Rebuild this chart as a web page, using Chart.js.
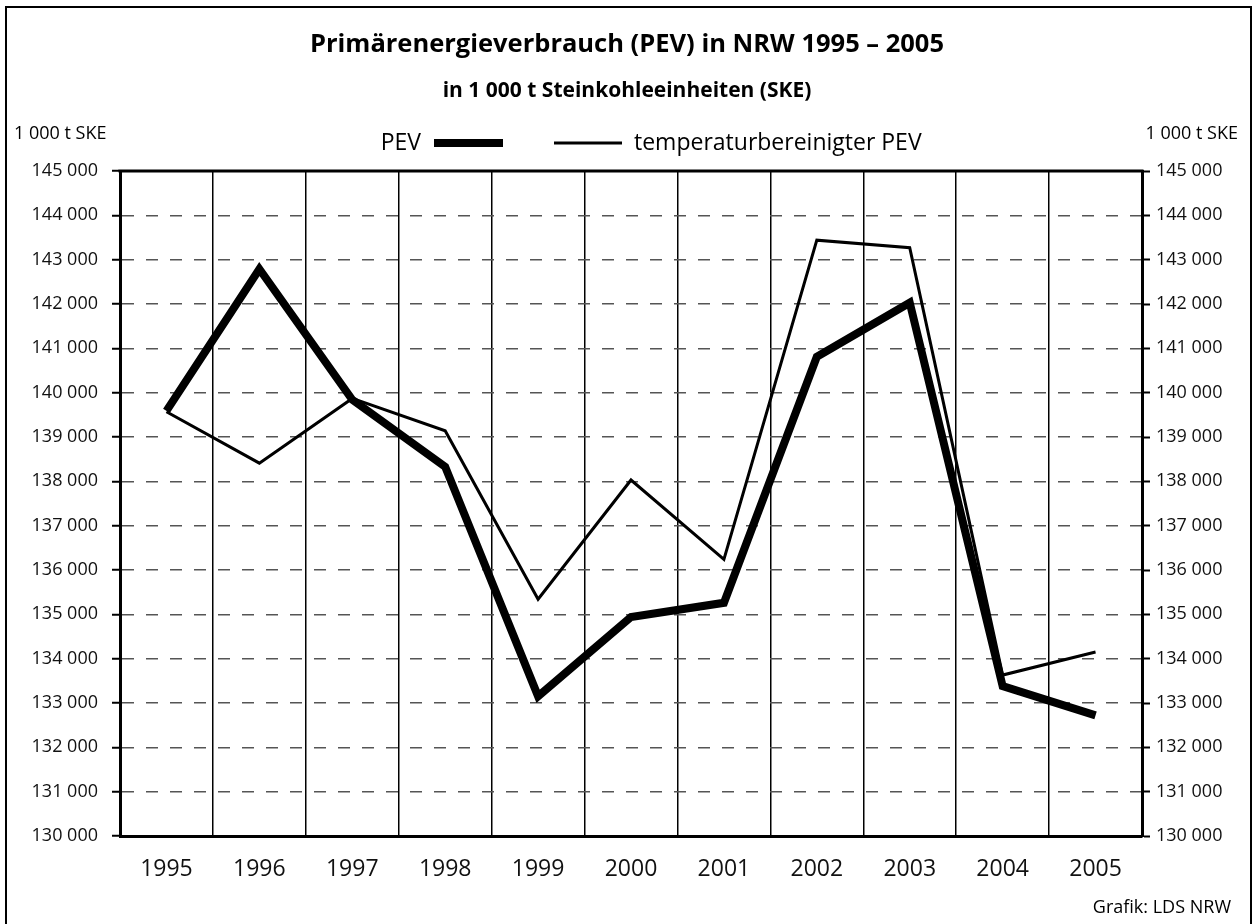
<!DOCTYPE html>
<html lang="de">
<head>
<meta charset="utf-8">
<title>Primärenergieverbrauch (PEV) in NRW 1995 – 2005</title>
<script src="https://cdn.jsdelivr.net/npm/chart.js@4/dist/chart.umd.min.js"></script>
<style>
    html, body { margin: 0; padding: 0; background: #fff; }
    #wrap { width: 1255px; height: 924px; position: relative; }
</style>
</head>
<body>
<div id="wrap"><canvas id="pevChart" width="1255" height="924"></canvas></div>
<script>
// Daten (1 000 t SKE)
const years = ['1995', '1996', '1997', '1998', '1999', '2000', '2001', '2002', '2003', '2004', '2005'];
const pev = [139590, 142790, 139840, 138330, 133150, 134940, 135260, 140810, 142030, 133380, 132720];
const pevTempAdj = [139570, 138410, 139870, 139140, 135340, 138030, 136240, 143440, 143270, 133630, 134150];
const seriesNames = ['PEV', 'temperaturbereinigter PEV'];

const titleText = 'Primärenergieverbrauch (PEV) in NRW 1995 – 2005';
const subtitleText = 'in 1 000 t Steinkohleeinheiten (SKE)';
const unitText = '1 000 t SKE';
const sourceText = 'Grafik: LDS NRW';

const FONT = '"Open Sans", "Noto Sans", sans-serif';

function formatThousands(v) {
    return String(v).replace(/\B(?=(\d{3})+(?!\d))/g, ' ');
}

// Rahmen, Titel, Legende usw.
const decorations = {
    id: 'decorations',
    beforeDraw(chart) {
        const ctx = chart.ctx;
        ctx.save();
        ctx.fillStyle = '#fff';
        ctx.fillRect(0, 0, chart.width, chart.height);
        ctx.restore();
    },
    afterDraw(chart) {
        const ctx = chart.ctx;
        const area = chart.chartArea;
        ctx.save();

        // outer frame
        ctx.strokeStyle = '#000';
        ctx.lineWidth = 2;
        ctx.beginPath();
        ctx.moveTo(6, 930);
        ctx.lineTo(6, 7);
        ctx.lineTo(1251, 7);
        ctx.lineTo(1251, 930);
        ctx.stroke();

        // top of plot area
        ctx.lineWidth = 3;
        ctx.beginPath();
        ctx.moveTo(area.left - 1.5, area.top);
        ctx.lineTo(area.right + 1.5, area.top);
        ctx.stroke();

        ctx.fillStyle = '#000';
        ctx.textBaseline = 'middle';

        ctx.textAlign = 'center';
        ctx.font = 'bold 25.5px ' + FONT;
        ctx.fillText(titleText, 627, 45);
        ctx.font = 'bold 21px ' + FONT;
        ctx.fillText(subtitleText, 627, 91);

        ctx.font = '18px ' + FONT;
        ctx.textAlign = 'left';
        ctx.fillText(unitText, 14, 134);
        ctx.textAlign = 'right';
        ctx.fillText(unitText, 1238, 134);
        ctx.fillText(sourceText, 1231, 908);

        // legend
        const ds = chart.data.datasets;
        const ly = 143;
        ctx.font = '23px ' + FONT;
        ctx.textAlign = 'right';
        ctx.fillText(ds[0].label, 421, ly);
        ctx.lineWidth = ds[0].borderWidth;
        ctx.beginPath();
        ctx.moveTo(434, ly);
        ctx.lineTo(503, ly);
        ctx.stroke();
        ctx.lineWidth = ds[1].borderWidth;
        ctx.beginPath();
        ctx.moveTo(554, ly);
        ctx.lineTo(622, ly);
        ctx.stroke();
        ctx.textAlign = 'left';
        ctx.fillText(ds[1].label, 634, ly);

        ctx.restore();
    }
};

const ctx = document.getElementById('pevChart').getContext('2d');
const chart = new Chart(ctx, {
    type: 'line',
    data: {
        labels: years,
        datasets: [{
            label: seriesNames[0],
            data: pev,
            borderColor: '#000',
            borderWidth: 8,
            borderJoinStyle: 'miter',
            pointRadius: 0,
            tension: 0,
            yAxisID: 'y'
        }, {
            label: seriesNames[1],
            data: pevTempAdj,
            borderColor: '#000',
            borderWidth: 3,
            borderJoinStyle: 'miter',
            pointRadius: 0,
            tension: 0,
            yAxisID: 'y'
        }]
    },
    options: {
        responsive: false,
        animation: false,
        maintainAspectRatio: false,
        layout: { padding: { top: 171, left: 0, right: 0, bottom: 0 } },
        plugins: {
            legend: { display: false },
            title: { display: false },
            tooltip: { enabled: false }
        },
        scales: {
            x: {
                type: 'category',
                offset: true,
                grid: {
                    offset: true,
                    color: '#000',
                    lineWidth: 1.5,
                    drawTicks: false
                },
                border: { display: true, color: '#000', width: 3 },
                ticks: {
                    color: '#111',
                    font: { family: FONT, size: 23 },
                    padding: 20,
                    maxRotation: 0
                },
                afterFit(scale) { scale.height = 88; }
            },
            y: {
                position: 'left',
                min: 130000,
                max: 145000,
                grid: {
                    color: '#555',
                    lineWidth: 1.5,
                    drawTicks: true,
                    tickLength: 8,
                    tickColor: '#000',
                    tickWidth: 2,
                    tickBorderDash: []
                },
                border: { display: true, color: '#000', width: 3, dash: [12, 12] },
                ticks: {
                    stepSize: 1000,
                    color: '#111',
                    font: { family: FONT, size: 18 },
                    padding: 14,
                    callback: v => formatThousands(v)
                },
                afterFit(scale) { scale.width = 120; }
            },
            y2: {
                position: 'right',
                min: 130000,
                max: 145000,
                grid: {
                    drawOnChartArea: false,
                    drawTicks: true,
                    tickLength: 8,
                    tickColor: '#000',
                    tickWidth: 2
                },
                border: { display: true, color: '#000', width: 3 },
                ticks: {
                    stepSize: 1000,
                    color: '#111',
                    font: { family: FONT, size: 18 },
                    padding: 6,
                    callback: v => formatThousands(v)
                },
                afterFit(scale) { scale.width = 113; }
            }
        }
    },
    plugins: [decorations]
});
</script>
</body>
</html>
